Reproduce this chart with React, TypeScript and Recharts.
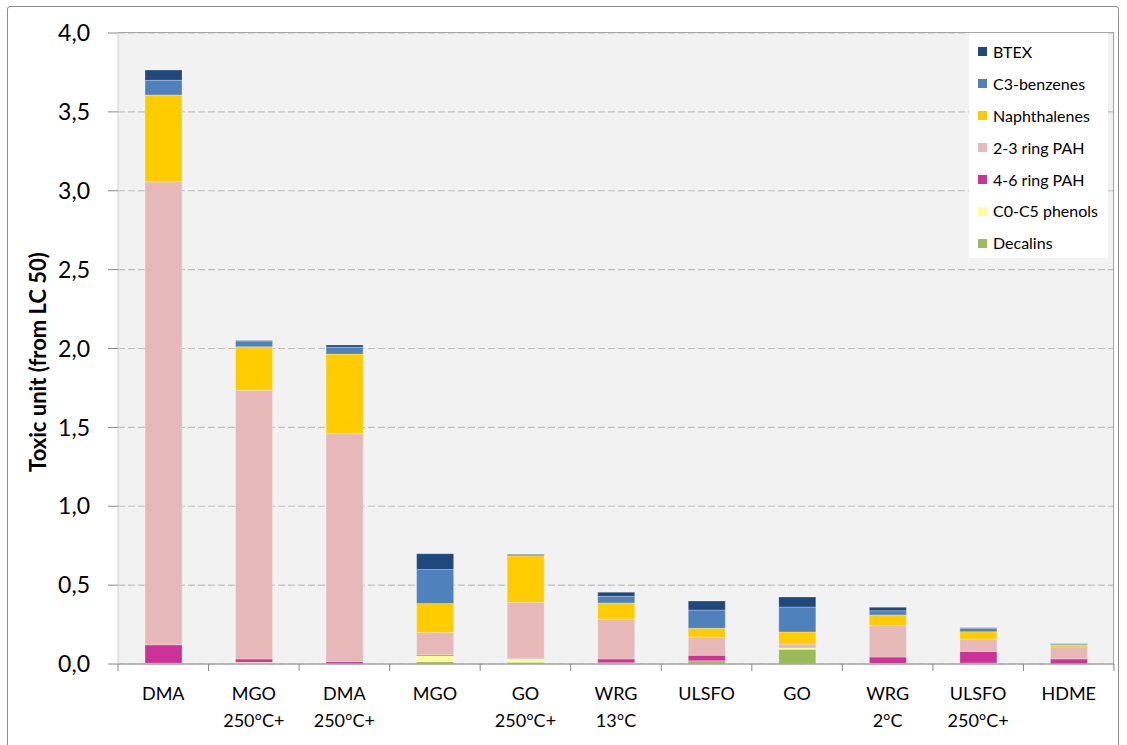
import { BarChart, Bar, XAxis, YAxis, CartesianGrid, Legend } from 'recharts';

const categories = ['DMA', 'MGO\n250°C+', 'DMA\n250°C+', 'MGO', 'GO\n250°C+', 'WRG\n13°C', 'ULSFO', 'GO', 'WRG\n2°C', 'ULSFO\n250°C+', 'HDME'];

const decalins = [0, 0.003, 0, 0.015, 0.011, 0.006, 0.02, 0.093, 0.003, 0.006, 0];
const phenols = [0.005, 0.008, 0, 0.038, 0.023, 0.002, 0, 0.008, 0.001, 0, 0];
const ring46 = [0.117, 0.021, 0.015, 0.006, 0.002, 0.024, 0.035, 0, 0.04, 0.074, 0.032];
const ring23 = [2.935, 1.703, 1.445, 0.14, 0.355, 0.253, 0.116, 0.026, 0.199, 0.078, 0.076];
const naphthalenes = [0.55, 0.276, 0.505, 0.185, 0.295, 0.102, 0.055, 0.076, 0.068, 0.047, 0.012];
const c3benzenes = [0.093, 0.037, 0.043, 0.215, 0.008, 0.042, 0.116, 0.158, 0.027, 0.021, 0.006];
const btex = [0.065, 0.003, 0.014, 0.1, 0.003, 0.026, 0.058, 0.064, 0.021, 0.004, 0.002];

const yTicks = [0, 0.5, 1, 1.5, 2, 2.5, 3, 3.5, 4];

// stack order, bottom to top
const series = [
  { key: 'decalins', name: 'Decalins', color: '#9BBB59', values: decalins },
  { key: 'phenols', name: 'C0-C5 phenols', color: '#FFFF99', values: phenols },
  { key: 'ring46', name: '4-6 ring PAH', color: '#CC3399', values: ring46 },
  { key: 'ring23', name: '2-3 ring PAH', color: '#E6B9B8', values: ring23 },
  { key: 'naph', name: 'Naphthalenes', color: '#FFCC00', values: naphthalenes },
  { key: 'c3', name: 'C3-benzenes', color: '#4F81BD', values: c3benzenes },
  { key: 'btex', name: 'BTEX', color: '#1F497D', values: btex },
];

const data = categories.map((name, i) => {
  const row: Record<string, string | number> = { name };
  series.forEach(s => { row[s.key] = s.values[i]; });
  return row;
});

const font = 'Lato, "Open Sans", sans-serif';

function XTick(props: any) {
  const { x, y, payload, index } = props;
  const half = payload.offset || 45.27;
  const lines = String(payload.value).split('\n');
  return (
    <g>
      <line x1={x - half} x2={x - half} y1={y} y2={y + 7} stroke="#888" />
      {index === categories.length - 1 && (
        <line x1={x + half} x2={x + half} y1={y} y2={y + 7} stroke="#888" />
      )}
      {lines.map((l, i) => (
        <text key={i} x={x} y={y + 36 + i * 27} textAnchor="middle" fontSize={18} fontFamily={font} fill="#000">
          {l}
        </text>
      ))}
    </g>
  );
}

function LegendBox() {
  const items = [...series].reverse();
  return (
    <div style={{ background: '#fff', width: 139, height: 225, paddingTop: 3, boxSizing: 'border-box', fontFamily: font, lineHeight: 1 }}>
      {items.map(s => (
        <div key={s.key} style={{ display: 'flex', alignItems: 'center', height: 31.9, paddingLeft: 9 }}>
          <span style={{ width: 9, height: 9, background: s.color, display: 'inline-block', marginRight: 6, flexShrink: 0 }} />
          <span style={{ fontSize: 16, color: '#000', whiteSpace: 'nowrap' }}>{s.name}</span>
        </div>
      ))}
    </div>
  );
}

export default function App() {
  return (
    <div style={{ position: 'absolute', left: 0, top: 0, width: 1127, height: 745, background: '#fff', overflow: 'hidden' }}>
      <div style={{ position: 'absolute', left: 7, top: 6, width: 1110, height: 800, border: '1.5px solid #8C8C8C', borderRadius: 3 }} />
      <BarChart
        width={1127}
        height={745}
        data={data}
        margin={{ top: 33, right: 13, bottom: 21, left: 38 }}
        barSize={37}
        style={{ position: 'absolute', left: 0, top: 0 }}
      >
        <CartesianGrid vertical={false} fill="#F2F2F2" stroke="#BFBFBF" strokeDasharray="7 3" strokeWidth={1.2} />
        <XAxis
          dataKey="name"
          height={60}
          interval={0}
          tickSize={0}
          tickMargin={0}
          tickLine={false}
          axisLine={{ stroke: '#A6A6A6', strokeWidth: 1.5 }}
          tick={<XTick />}
        />
        <YAxis
          width={80}
          domain={[0, 4]}
          ticks={yTicks}
          interval={0}
          tickSize={10}
          tickMargin={18}
          axisLine={{ stroke: '#D0D0D0' }}
          tickLine={{ stroke: '#888' }}
          tick={{ fontSize: 23, fontFamily: font, fill: '#000' }}
          tickFormatter={(v: number) => v.toFixed(1).replace('.', ',')}
        />
        {series.map(s => (
          <Bar key={s.key} dataKey={s.key} name={s.name} stackId="a" fill={s.color} stroke="#fff" strokeOpacity={0.35} strokeWidth={0.75} isAnimationActive={false} />
        ))}
        <Legend
          layout="horizontal"
          verticalAlign="middle"
          align="center"
          content={<LegendBox />}
          wrapperStyle={{ position: 'absolute', left: 969, top: 33, width: 139, height: 225 }}
        />
      </BarChart>
      <div style={{ position: 'absolute', left: 118, top: 32, width: 996, height: 632, borderTop: '1.5px solid #A6A6A6', borderRight: '1.5px solid #A6A6A6', boxSizing: 'border-box', pointerEvents: 'none' }} />
      <div
        style={{
          position: 'absolute',
          left: 37,
          top: 362,
          transform: 'translate(-50%, -50%) rotate(-90deg)',
          whiteSpace: 'nowrap',
          fontFamily: font,
          fontWeight: 'bold',
          fontSize: 22,
          color: '#000',
        }}
      >
        Toxic unit (from LC 50)
      </div>
    </div>
  );
}
